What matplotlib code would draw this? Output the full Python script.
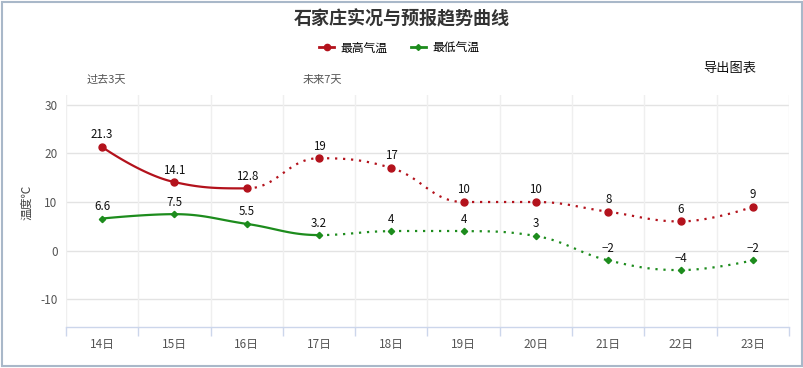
#!/usr/bin/env python3
"""Shijiazhuang observed / forecast temperature trend chart."""

import matplotlib

matplotlib.use("Agg")
import matplotlib.pyplot as plt
import numpy as np
from matplotlib.lines import Line2D
from matplotlib.patches import Rectangle

plt.rcParams["font.family"] = ["Noto Sans CJK SC", "DejaVu Sans"]
plt.rcParams["axes.unicode_minus"] = False

DAYS = ["14日", "15日", "16日", "17日", "18日", "19日", "20日", "21日", "22日", "23日"]
HIGH = [21.3, 14.1, 12.8, 19, 17, 10, 10, 8, 6, 9]
LOW = [6.6, 7.5, 5.5, 3.2, 4, 4, 3, -2, -4, -2]
HIGH_OBSERVED = 3  # first three highs are observed, rest forecast
LOW_OBSERVED = 4
Y_TICKS = [-10, 0, 10, 20, 30]

RED = "#b3121c"
GREEN = "#1d8c1d"
GRID = "#e3e3e3"
AXIS = "#ccd6eb"

# pixel scale of the plot, used so the spline bends like the original
PX_X = 72.3
PX_Y = 4.865


def spline_segments(ys, smoothing=1.5):
    """Highcharts-style spline: one sampled cubic Bezier per point pair."""
    n = len(ys)
    px = np.arange(n) * PX_X
    py = np.asarray(ys, dtype=float) * PX_Y
    left = [(px[i], py[i]) for i in range(n)]
    right = [(px[i], py[i]) for i in range(n)]
    den = smoothing + 1
    for i in range(1, n - 1):
        lx = (smoothing * px[i] + px[i - 1]) / den
        ly = (smoothing * py[i] + py[i - 1]) / den
        rx = (smoothing * px[i] + px[i + 1]) / den
        ry = (smoothing * py[i] + py[i + 1]) / den
        dl = np.hypot(lx - px[i], ly - py[i])
        dr = np.hypot(rx - px[i], ry - py[i])
        la = np.arctan2(ly - py[i], lx - px[i])
        ra = np.arctan2(ry - py[i], rx - px[i])
        joint = np.pi / 2 + (la + ra) / 2
        if abs(la - joint) > np.pi / 2:
            joint -= np.pi
        lx = px[i] + np.cos(joint) * dl
        ly = py[i] + np.sin(joint) * dl
        rx = px[i] + np.cos(np.pi + joint) * dr
        ry = py[i] + np.sin(np.pi + joint) * dr
        # keep control points from overshooting neighbours
        if ly > max(py[i - 1], py[i]):
            ly = max(py[i - 1], py[i])
            ry = 2 * py[i] - ly
        elif ly < min(py[i - 1], py[i]):
            ly = min(py[i - 1], py[i])
            ry = 2 * py[i] - ly
        if ry > max(py[i + 1], py[i]):
            ry = max(py[i + 1], py[i])
            ly = 2 * py[i] - ry
        elif ry < min(py[i + 1], py[i]):
            ry = min(py[i + 1], py[i])
            ly = 2 * py[i] - ry
        left[i] = (lx, ly)
        right[i] = (rx, ry)
    t = np.linspace(0, 1, 40)[:, None]
    segs = []
    for i in range(1, n):
        p0 = np.array([px[i - 1], py[i - 1]])
        p1 = np.array(right[i - 1])
        p2 = np.array(left[i])
        p3 = np.array([px[i], py[i]])
        pts = ((1 - t) ** 3) * p0 + 3 * ((1 - t) ** 2) * t * p1 + 3 * (1 - t) * t ** 2 * p2 + t ** 3 * p3
        segs.append((pts[:, 0] / PX_X, pts[:, 1] / PX_Y))
    return segs


def draw_series(ax, values, observed, color, marker, ms):
    segs = spline_segments(values)
    for k, (sx, sy) in enumerate(segs):
        if k < observed - 1:
            ax.plot(sx, sy, color=color, lw=1.6, solid_capstyle="round", zorder=3)
        else:
            ax.plot(sx, sy, color=color, lw=1.6, linestyle=(0, (1, 2.6)), zorder=3)
    x = np.arange(len(values))
    ax.plot(x, values, linestyle="none", marker=marker, ms=ms, color=color, zorder=4)
    for xi, v in zip(x, values):
        text = f"{v:g}".replace("-", "\u2212")
        ax.annotate(text, (xi, v), xytext=(0, 4), textcoords="offset points",
                    ha="center", va="bottom", fontsize=8.3, color="#111111", zorder=5)


fig = plt.figure(figsize=(8.04, 3.68), dpi=100)
W, H = 804, 368
ax = fig.add_axes([66 / W, 1 - 327 / H, (789 - 66) / W, (327 - 95) / H])

draw_series(ax, HIGH, HIGH_OBSERVED, RED, "o", 5.0)
draw_series(ax, LOW, LOW_OBSERVED, GREEN, "D", 3.2)

ax.set_xlim(-0.5, len(DAYS) - 0.5)
ax.set_ylim(-15.7, 32.0)

ax.set_yticks(Y_TICKS)
ax.tick_params(axis="y", length=0, pad=6, labelsize=8.5, labelcolor="#555555")
for yv in Y_TICKS:
    ax.axhline(yv, color=GRID, lw=1.0, zorder=1)

ax.set_xticks(np.arange(len(DAYS) + 1) - 0.5)
ax.set_xticklabels([])
ax.set_xticks(np.arange(len(DAYS)), minor=True)
ax.set_xticklabels(DAYS, minor=True)
ax.tick_params(axis="x", which="major", length=6.5, width=1.0, color=AXIS)
ax.tick_params(axis="x", which="minor", length=0, pad=8, labelsize=8.5, labelcolor="#555555")
ax.grid(axis="x", which="major", color="#efefef", lw=1.0, zorder=0)

for side in ("top", "left", "right"):
    ax.spines[side].set_visible(False)
ax.spines["bottom"].set_color(AXIS)
ax.spines["bottom"].set_linewidth(1.0)

ax.set_ylabel("温度℃", fontsize=8.5, color="#444444")
ax.yaxis.set_label_coords((33 - 66) / 723, (327 - 202) / 232)

fig.text(0.5, 1 - 19 / H, "石家庄实况与预报趋势曲线", ha="center", va="center",
         fontsize=13, fontweight="bold", color="#333333")
fig.text(106 / W, 1 - 80 / H, "过去3天", ha="center", va="center", fontsize=8, color="#555555")
fig.text(322 / W, 1 - 80 / H, "未来7天", ha="center", va="center", fontsize=8, color="#555555")
fig.text(730 / W, 1 - 68 / H, "导出图表", ha="center", va="center", fontsize=9.5, color="#111111")

handles = [
    Line2D([], [], color=RED, lw=2, marker="o", ms=4.5),
    Line2D([], [], color=GREEN, lw=2, marker="D", ms=3),
]
fig.legend(handles, ["最高气温", "最低气温"], loc="center", bbox_to_anchor=(399 / W, 1 - 48 / H),
           ncol=2, frameon=False, fontsize=8.5, handlelength=1.3, handletextpad=0.5,
           columnspacing=2.0)

fig.patches.append(Rectangle((2 / W, 2 / H), 800 / W, 364 / H, transform=fig.transFigure,
                             fill=False, edgecolor="#a9b8c9", lw=1.5))

fig.savefig("out.png", dpi=100)
